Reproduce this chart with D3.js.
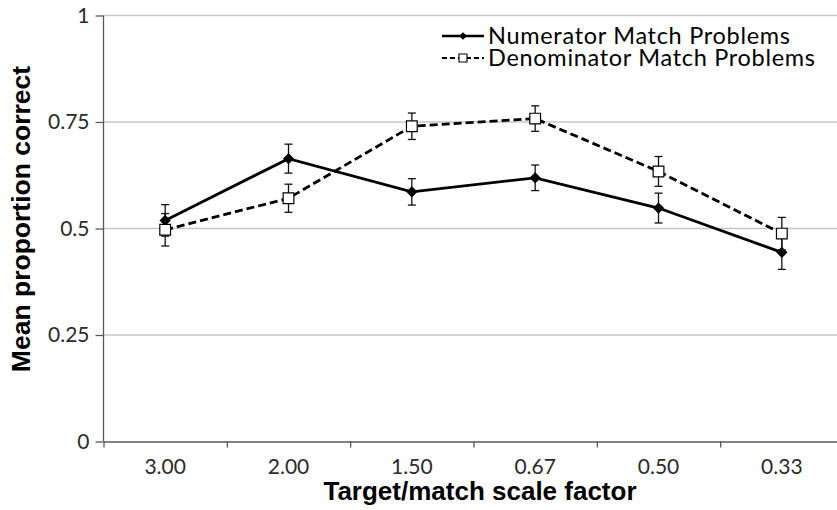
<!DOCTYPE html>
<html>
<head>
<meta charset="utf-8">
<script src="https://cdn.jsdelivr.net/npm/d3@7"></script>
<style>
  html, body { margin: 0; padding: 0; background: #fff; }
  svg { display: block; }
</style>
</head>
<body>
<svg id="chart" width="837" height="510"></svg>
<script>
// ---- data ----
const categories = ["3.00", "2.00", "1.50", "0.67", "0.50", "0.33"];
const numerator = [0.519, 0.664, 0.586, 0.619, 0.548, 0.444];
const numeratorErr = [0.037, 0.034, 0.031, 0.030, 0.035, 0.040];
const denominator = [0.497, 0.571, 0.740, 0.758, 0.634, 0.488];
const denominatorErr = [0.038, 0.033, 0.031, 0.030, 0.035, 0.038];
const yTicks = [0, 0.25, 0.5, 0.75, 1];
const yTickLabels = ["0", "0.25", "0.5", "0.75", "1"];
const seriesNames = ["Numerator Match Problems", "Denominator Match Problems"];
const xTitle = "Target/match scale factor";
const yTitle = "Mean proportion correct";

// ---- layout ----
const svg = d3.select("#chart");
const pLeft = 103.5, pRight = 843.5, pTop = 15.5, pBottom = 441.5;
const x = d3.scaleBand().domain(categories).range([pLeft, pRight]);
const xb = d3.scaleLinear().domain([0, categories.length]).range([pLeft, pRight]);
const y = d3.scaleLinear().domain([0, 1]).range([pBottom, pTop]);
const axisColor = "#595959";
const gridColor = "#c6c6c6";
const tickFont = "Lato, 'Open Sans', sans-serif";

// gridlines
svg.append("g").selectAll("line").data(yTicks.filter(d => d > 0)).join("line")
  .attr("x1", pLeft).attr("x2", pRight)
  .attr("y1", d => y(d)).attr("y2", d => y(d))
  .attr("stroke", gridColor).attr("stroke-width", 1.3);

// y axis
const gy = svg.append("g").attr("transform", `translate(${pLeft},0)`)
  .call(d3.axisLeft(y).tickValues(yTicks)
    .tickFormat((d, i) => yTickLabels[i]).tickSize(8).tickPadding(6));
gy.selectAll("path, line").attr("stroke", axisColor).attr("stroke-width", 1.3);
gy.select("path").attr("d", `M0,${pBottom}V${pTop}`);
gy.selectAll("text").attr("font-family", tickFont).attr("font-size", 21).attr("fill", "#2b2b2b");

// x axis boundary ticks
const gxb = svg.append("g").attr("transform", `translate(0,${pBottom})`)
  .call(d3.axisBottom(xb).tickValues(d3.range(categories.length + 1))
    .tickFormat("").tickSize(6).tickSizeOuter(0));
gxb.selectAll("path, line").attr("stroke", axisColor).attr("stroke-width", 1.3);

// x axis labels
const gx = svg.append("g").attr("transform", `translate(0,${pBottom})`)
  .call(d3.axisBottom(x).tickSize(0).tickPadding(18));
gx.select("path").remove();
gx.selectAll("text").attr("font-family", tickFont).attr("font-size", 21).attr("fill", "#2b2b2b");

// titles
svg.append("text").attr("x", 480).attr("y", 499.5)
  .attr("text-anchor", "middle")
  .attr("font-family", "'Liberation Sans', Arial, sans-serif")
  .attr("font-weight", "bold").attr("font-size", 26).attr("fill", "#000")
  .text(xTitle);
svg.append("text")
  .attr("transform", "translate(30,219) rotate(-90)")
  .attr("text-anchor", "middle")
  .attr("font-family", "'Liberation Sans', Arial, sans-serif")
  .attr("font-weight", "bold").attr("font-size", 26.5).attr("fill", "#000")
  .text(yTitle);

// series
const cx = c => x(c) + x.bandwidth() / 2;
const line = d3.line().x(d => cx(d.c)).y(d => y(d.v));
const toPts = (vals, errs) => categories.map((c, i) => ({ c, v: vals[i], e: errs[i] }));
const numPts = toPts(numerator, numeratorErr);
const denPts = toPts(denominator, denominatorErr);

function drawErr(pts) {
  const g = svg.append("g").attr("stroke", "#111").attr("stroke-width", 1.3);
  pts.forEach(d => {
    const X = cx(d.c);
    g.append("line").attr("x1", X).attr("x2", X).attr("y1", y(d.v - d.e)).attr("y2", y(d.v + d.e));
    g.append("line").attr("x1", X - 4).attr("x2", X + 4).attr("y1", y(d.v - d.e)).attr("y2", y(d.v - d.e));
    g.append("line").attr("x1", X - 4).attr("x2", X + 4).attr("y1", y(d.v + d.e)).attr("y2", y(d.v + d.e));
  });
}

// numerator
svg.append("path").datum(numPts).attr("d", line)
  .attr("fill", "none").attr("stroke", "#000").attr("stroke-width", 2.8);
drawErr(numPts);
svg.append("g").selectAll("path").data(numPts).join("path")
  .attr("d", d3.symbol(d3.symbolSquare, 64)())
  .attr("transform", d => `translate(${cx(d.c)},${y(d.v)}) rotate(45)`)
  .attr("fill", "#000");

// denominator
svg.append("path").datum(denPts).attr("d", line)
  .attr("fill", "none").attr("stroke", "#000").attr("stroke-width", 2.8)
  .attr("stroke-dasharray", "8,4");
drawErr(denPts);
svg.append("g").selectAll("path").data(denPts).join("path")
  .attr("d", d3.symbol(d3.symbolSquare, 115)())
  .attr("transform", d => `translate(${cx(d.c)},${y(d.v)})`)
  .attr("fill", "#fff").attr("stroke", "#000").attr("stroke-width", 1.2);

// legend
const leg = svg.append("g");
const legY = [36, 58];
leg.append("line").attr("x1", 442).attr("x2", 484).attr("y1", legY[0]).attr("y2", legY[0])
  .attr("stroke", "#000").attr("stroke-width", 2.5);
leg.append("path").attr("d", d3.symbol(d3.symbolSquare, 30)())
  .attr("transform", `translate(463,${legY[0]}) rotate(45)`).attr("fill", "#000");
leg.append("line").attr("x1", 442).attr("x2", 484).attr("y1", legY[1]).attr("y2", legY[1])
  .attr("stroke", "#000").attr("stroke-width", 2).attr("stroke-dasharray", "5,3");
leg.append("path").attr("d", d3.symbol(d3.symbolSquare, 64)())
  .attr("transform", `translate(463,${legY[1]})`)
  .attr("fill", "#fff").attr("stroke", "#000").attr("stroke-width", 1.1);
leg.selectAll("text.lbl").data(seriesNames).join("text").attr("class", "lbl")
  .attr("x", 488).attr("y", (d, i) => legY[i]).attr("dy", "0.35em")
  .attr("font-family", tickFont).attr("font-size", 23.5).attr("letter-spacing", 0.7)
  .attr("fill", "#000")
  .text(d => d);
</script>
</body>
</html>
